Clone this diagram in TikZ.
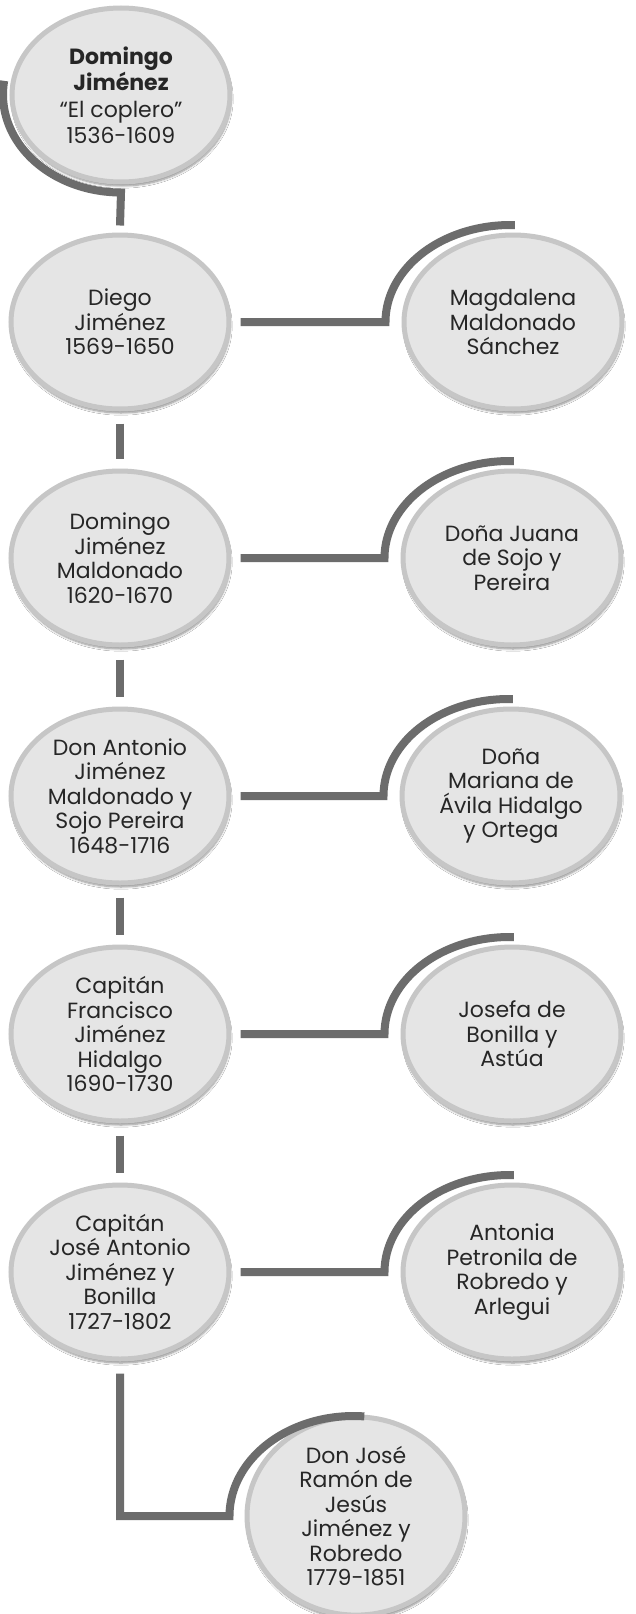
\documentclass[tikz,border=0pt]{standalone}
\usepackage{fontspec}
\setmainfont{Poppins}
\usepackage{tikz}
\usetikzlibrary{shapes.geometric,shadows.blur}
\definecolor{ring}{RGB}{198,198,198}
\definecolor{disc}{RGB}{229,229,229}
\definecolor{stem}{RGB}{108,108,108}

\begin{document}
\begin{tikzpicture}[x=1pt,y=-1pt]
 \tikzset{person/.style={ellipse,draw=ring,line width=5pt,fill=disc,minimum width=218pt,minimum height=174pt,inner sep=0pt,align=center,text=black!85,font=\fontsize{22}{24.5}\selectfont,blur shadow={shadow xshift=1pt,shadow yshift=-4pt,shadow blur steps=6,shadow opacity=45}},
  link/.style={draw=stem,line width=8pt}}
 \useasboundingbox[fill=white] (0,0) rectangle (636,1614);

 \node[person,font=\fontsize{22}{26.5}\selectfont] (G0) at (121,95) {\textbf{Domingo}\\\textbf{Jiménez}\\“El coplero”\\1536-1609};
 \node[person] (G1) at (120,322) {Diego\\Jiménez\\1569-1650};
 \node[person] (E1) at (513,322) {Magdalena\\Maldonado\\Sánchez};
 \node[person] (G2) at (120,558) {Domingo\\Jiménez\\Maldonado\\1620-1670};
 \node[person] (E2) at (512,558) {Doña Juana\\de Sojo y\\Pereira};
 \node[person] (G3) at (120,796) {Don Antonio\\Jiménez\\Maldonado y\\Sojo Pereira\\1648-1716};
 \node[person] (E3) at (511,796) {Doña\\Mariana de\\Ávila Hidalgo\\y Ortega};
 \node[person] (G4) at (120,1034) {Capitán\\Francisco\\Jiménez\\Hidalgo\\1690-1730};
 \node[person] (E4) at (512,1034) {Josefa de\\Bonilla y\\Astúa};
 \node[person] (G5) at (120,1272) {Capitán\\José Antonio\\Jiménez y\\Bonilla\\1727-1802};
 \node[person] (E5) at (512,1272) {Antonia\\Petronila de\\Robredo y\\Arlegui};
 \node[person] (G6) at (356,1516) {Don José\\Ramón de\\Jesús\\Jiménez y\\Robredo\\1779-1851};

 \draw[link] ([yshift=7pt]G1.north) -- ([yshift=-8pt]G0.south) arc[start angle=270,end angle=172,x radius=118pt,y radius=98pt];
 \foreach \a/\b in {G1/G2,G2/G3,G3/G4,G4/G5}
  \draw[link] ([yshift=-12pt]\a.south) -- ([yshift=10pt]\b.north);
 \foreach \n in {1,...,5}
  \draw[link] ([xshift=9pt]G\n.east) -- ([xshift=-16pt]E\n.west) arc[start angle=180,end angle=88,x radius=125pt,y radius=97pt];
 \draw[link] ([yshift=-12pt]G5.south) |- ([xshift=-15pt]G6.west) arc[start angle=180,end angle=85,x radius=124pt,y radius=100pt];
\end{tikzpicture}
\end{document}
